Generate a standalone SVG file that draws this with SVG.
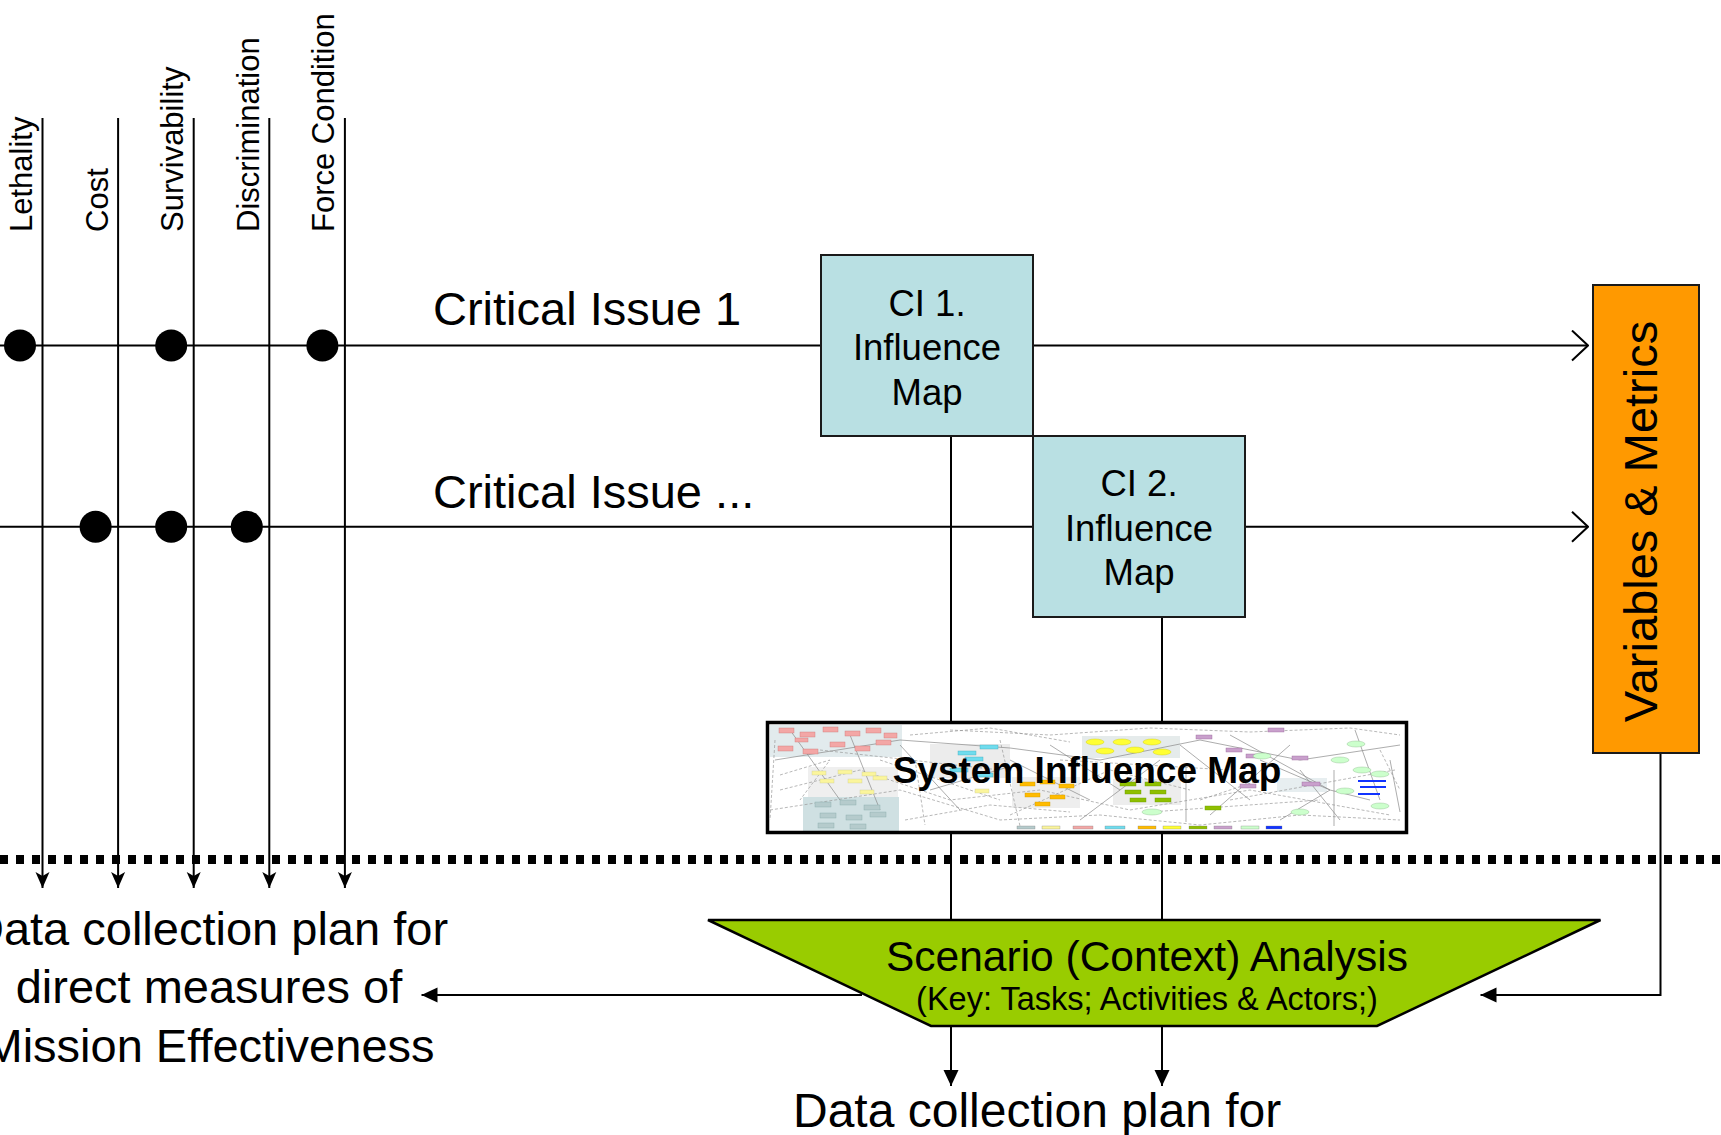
<svg xmlns="http://www.w3.org/2000/svg" width="1721" height="1135" viewBox="0 0 1721 1135">
  <style>
    .ln { stroke: #000; stroke-width: 2; fill: none; }
    .box { stroke: #1a1a1a; stroke-width: 2; }
    .lbl { font-family: "Liberation Sans", Arial, sans-serif; fill: #000; }
    .metric { font-size: 31px; }
    .issue { font-size: 47px; }
    .ci { font-size: 36.5px; text-anchor: middle; }
    .big { font-size: 47px; text-anchor: middle; }
    .dot { fill: #000; }
    .mini { stroke: #8a8a8a; stroke-width: 0.7; fill: none; }
    .mini-d { stroke: #9a9a9a; stroke-width: 0.7; fill: none; stroke-dasharray: 3 2; }
  </style>
  <defs>
    <marker id="tri" viewBox="0 0 16 16" refX="16" refY="8" markerWidth="16" markerHeight="16" markerUnits="userSpaceOnUse" orient="auto">
      <path d="M0,0.5 L16,8 L0,15.5 Z" fill="#000"/>
    </marker>
    <marker id="stealth" viewBox="0 0 16 16" refX="16" refY="8" markerWidth="16" markerHeight="16" markerUnits="userSpaceOnUse" orient="auto">
      <path d="M0,1 L16,8 L0,15 L4,8 Z" fill="#000"/>
    </marker>
    <marker id="open" viewBox="0 0 18 32" refX="17" refY="16" markerWidth="18" markerHeight="32" markerUnits="userSpaceOnUse" orient="auto">
      <path d="M1,1 L17,16 L1,31" fill="none" stroke="#000" stroke-width="2"/>
    </marker>
    <clipPath id="simClip">
      <rect x="769" y="724" width="636" height="107"/>
    </clipPath>
  </defs>

  <rect width="1721" height="1135" fill="#fff"/>

  <!-- connectors -->
  <g id="connectors">
    <!-- measure columns -->
    <line class="ln" x1="42.5" y1="118" x2="42.5" y2="888" marker-end="url(#stealth)"/>
    <line class="ln" x1="118.1" y1="118" x2="118.1" y2="888" marker-end="url(#stealth)"/>
    <line class="ln" x1="193.7" y1="118" x2="193.7" y2="888" marker-end="url(#stealth)"/>
    <line class="ln" x1="269.3" y1="118" x2="269.3" y2="888" marker-end="url(#stealth)"/>
    <line class="ln" x1="344.9" y1="118" x2="344.9" y2="888" marker-end="url(#stealth)"/>

    <!-- critical issue rows -->
    <line class="ln" x1="0" y1="345.5" x2="821" y2="345.5"/>
    <line class="ln" x1="1033" y1="345.5" x2="1588" y2="345.5" marker-end="url(#open)"/>
    <line class="ln" x1="0" y1="526.7" x2="1033" y2="526.7"/>
    <line class="ln" x1="1245" y1="526.7" x2="1588" y2="526.7" marker-end="url(#open)"/>

    <!-- influence maps down to the scenario analysis -->
    <line class="ln" x1="951" y1="436" x2="951" y2="920"/>
    <line class="ln" x1="1162" y1="617" x2="1162" y2="920"/>

    <!-- scenario analysis outputs -->
    <line class="ln" x1="951" y1="1026" x2="951" y2="1086" marker-end="url(#tri)"/>
    <line class="ln" x1="1162" y1="1026" x2="1162" y2="1086" marker-end="url(#tri)"/>
    <line class="ln" x1="862" y1="995" x2="421.5" y2="995" marker-end="url(#tri)"/>

    <!-- variables & metrics feed back -->
    <path class="ln" d="M1660.5,753 L1660.5,995 L1480.5,995" marker-end="url(#tri)"/>

    <!-- boundary -->
    <line x1="0" y1="859.5" x2="1721" y2="859.5" stroke="#000" stroke-width="9" stroke-dasharray="8 8"/>
  </g>

  <!-- measure labels -->
  <g id="measures" class="lbl metric">
    <text transform="translate(32,232) rotate(-90)">Lethality</text>
    <text transform="translate(107.6,232) rotate(-90)">Cost</text>
    <text transform="translate(183.2,232) rotate(-90)">Survivability</text>
    <text transform="translate(258.8,232) rotate(-90)">Discrimination</text>
    <text transform="translate(334.4,232) rotate(-90)">Force Condition</text>
  </g>

  <!-- markers on the issue rows -->
  <g id="issue-dots">
    <circle class="dot" cx="20" cy="345.5" r="16"/>
    <circle class="dot" cx="171.2" cy="345.5" r="16"/>
    <circle class="dot" cx="322.4" cy="345.5" r="16"/>
    <circle class="dot" cx="95.6" cy="526.7" r="16"/>
    <circle class="dot" cx="171.2" cy="526.7" r="16"/>
    <circle class="dot" cx="246.8" cy="526.7" r="16"/>
  </g>

  <g id="issue-1-label" class="lbl issue">
    <text x="433" y="325">Critical Issue 1</text>
  </g>
  <g id="issue-n-label" class="lbl issue">
    <text x="433" y="508">Critical Issue ...</text>
  </g>

  <g id="ci1">
    <rect class="box" x="821" y="255" width="212" height="181" fill="#B9E0E3"/>
    <text class="lbl ci" x="927" y="316">CI 1.</text>
    <text class="lbl ci" x="927" y="360">Influence</text>
    <text class="lbl ci" x="927" y="405">Map</text>
  </g>

  <g id="ci2">
    <rect class="box" x="1033" y="436" width="212" height="181" fill="#B9E0E3"/>
    <text class="lbl ci" x="1139" y="496">CI 2.</text>
    <text class="lbl ci" x="1139" y="541">Influence</text>
    <text class="lbl ci" x="1139" y="585">Map</text>
  </g>

  <g id="variables-metrics">
    <rect class="box" x="1593" y="285" width="106" height="468" fill="#FF9900"/>
    <text class="lbl" transform="translate(1657,521.5) rotate(-90)" font-size="47" text-anchor="middle">Variables &amp; Metrics</text>
  </g>

  <!-- system influence map thumbnail -->
  <g id="system-influence-map">
    <rect x="767.5" y="722.5" width="639" height="110" fill="#fff"/>
    <g clip-path="url(#simClip)">
      <!-- cluster backgrounds -->
      <rect x="770" y="725" width="132" height="32" fill="#e2ebed"/>
      <rect x="808" y="767" width="90" height="31" fill="#efefef"/>
      <rect x="803" y="797" width="96" height="35" fill="#cfe0e2"/>
      <rect x="930" y="744" width="80" height="34" fill="#ececec"/>
      <rect x="1082" y="736" width="98" height="22" fill="#e5ebeb"/>
      <rect x="1012" y="777" width="68" height="31" fill="#eeeeee"/>
      <rect x="1113" y="779" width="68" height="26" fill="#ededed"/>
      <rect x="1277" y="778" width="50" height="14" fill="#e7eef0"/>

      <!-- links -->
      <path class="mini" d="M775,760 L900,740 L1010,748 L1100,760 L1200,740 L1300,760 L1400,745"/>
      <path class="mini-d" d="M780,790 L860,770 L950,800 L1040,790 L1130,810 L1250,790 L1390,815"/>
      <path class="mini" d="M790,730 L840,800 M850,735 L880,810 M900,745 L960,810"/>
      <path class="mini-d" d="M770,810 L900,790 L1000,820 L1100,815 L1200,825 L1300,815 L1400,820"/>
      <path class="mini" d="M1010,760 L1090,800 M1050,745 L1120,790 M1180,745 L1250,800 M1300,770 L1340,820"/>
      <path class="mini-d" d="M950,730 L1050,735 L1150,728 L1250,732 L1350,728 L1400,735"/>
      <path class="mini" d="M1186,767 L1186,822 M1334,770 L1334,826 M1355,730 L1380,800"/>
      <path class="mini-d" d="M820,750 L1000,770 M1060,760 L1230,770 M1150,812 L1320,800 M880,760 L1000,800"/>
      <path class="mini" d="M1230,735 L1330,790 L1280,820 M1260,760 L1330,790 L1370,800"/>
      <path class="mini-d" d="M780,775 L830,760 L800,800 M1200,800 L1260,780 M1380,750 L1400,790"/>
      <path class="mini-d" d="M910,735 L990,728 L1070,742 M905,820 L990,805 L1070,812 M1010,815 L1110,770 L1190,790"/>
      <path class="mini" d="M930,790 L1015,765 M1080,820 L1160,760 M1210,815 L1290,745 M1390,760 L1400,812"/>
      <path class="mini-d" d="M775,740 L770,820 M915,760 L925,825 M1000,740 L1020,826 M1230,800 L1395,770"/>

      <!-- pink nodes -->
      <g fill="#f3a7a6" stroke="#c77" stroke-width="0.4">
        <rect x="779" y="728" width="15" height="5"/><rect x="800" y="732" width="15" height="5"/>
        <rect x="823" y="727" width="15" height="5"/><rect x="845" y="731" width="15" height="5"/>
        <rect x="866" y="728" width="15" height="5"/><rect x="884" y="733" width="13" height="5"/>
        <rect x="778" y="746" width="15" height="5"/><rect x="803" y="749" width="15" height="5"/>
        <rect x="830" y="742" width="15" height="5"/><rect x="855" y="746" width="15" height="5"/>
        <rect x="876" y="740" width="15" height="5"/><rect x="795" y="738" width="13" height="4"/>
      </g>
      <!-- pale yellow nodes -->
      <g fill="#fbf59c" stroke="#cc9" stroke-width="0.4">
        <rect x="812" y="771" width="14" height="4"/><rect x="838" y="770" width="14" height="4"/>
        <rect x="862" y="772" width="14" height="4"/><rect x="820" y="779" width="14" height="4"/>
        <rect x="848" y="779" width="14" height="4"/><rect x="873" y="776" width="14" height="4"/>
        <rect x="860" y="790" width="14" height="4"/><rect x="975" y="789" width="14" height="4"/>
      </g>
      <!-- grey-teal nodes -->
      <g fill="#b5cbcc" stroke="#8aa" stroke-width="0.4">
        <rect x="815" y="802" width="16" height="5"/><rect x="840" y="800" width="16" height="5"/>
        <rect x="864" y="805" width="16" height="5"/><rect x="820" y="813" width="16" height="5"/>
        <rect x="846" y="815" width="16" height="5"/><rect x="870" y="812" width="16" height="5"/>
        <rect x="818" y="823" width="16" height="5"/><rect x="850" y="824" width="16" height="5"/>
      </g>
      <!-- cyan nodes -->
      <g fill="#6fdcee" stroke="#4ab" stroke-width="0.4">
        <rect x="980" y="745" width="18" height="4"/><rect x="958" y="751" width="18" height="4"/>
        <rect x="965" y="757" width="18" height="4"/><rect x="950" y="768" width="18" height="4"/>
        <rect x="975" y="773" width="18" height="4"/>
      </g>
      <!-- yellow ellipses -->
      <g fill="#ffff33" stroke="#cc0" stroke-width="0.4">
        <ellipse cx="1095" cy="742" rx="9" ry="3"/><ellipse cx="1122" cy="742" rx="9" ry="3"/>
        <ellipse cx="1152" cy="742" rx="9" ry="3"/><ellipse cx="1105" cy="751" rx="9" ry="3"/>
        <ellipse cx="1135" cy="750" rx="9" ry="3"/><ellipse cx="1162" cy="752" rx="9" ry="3"/>
      </g>
      <!-- orange nodes -->
      <g fill="#ffbb00" stroke="#c90" stroke-width="0.4">
        <rect x="1020" y="782" width="15" height="4"/><rect x="1040" y="780" width="15" height="4"/>
        <rect x="1059" y="784" width="15" height="4"/><rect x="1025" y="793" width="15" height="4"/>
        <rect x="1050" y="795" width="15" height="4"/><rect x="1035" y="802" width="15" height="4"/>
      </g>
      <!-- olive nodes -->
      <g fill="#8fbf00" stroke="#690" stroke-width="0.4">
        <rect x="1120" y="782" width="16" height="4"/><rect x="1145" y="782" width="16" height="4"/>
        <rect x="1125" y="790" width="16" height="4"/><rect x="1150" y="790" width="16" height="4"/>
        <rect x="1130" y="798" width="16" height="4"/><rect x="1155" y="798" width="16" height="4"/>
        <rect x="1205" y="806" width="16" height="4"/>
      </g>
      <!-- purple nodes -->
      <g fill="#c9a0cc" stroke="#969" stroke-width="0.4">
        <rect x="1196" y="735" width="16" height="4"/><rect x="1268" y="728" width="16" height="4"/>
        <rect x="1226" y="748" width="16" height="4"/><rect x="1246" y="754" width="16" height="4"/>
        <rect x="1292" y="756" width="16" height="4"/><rect x="1302" y="782" width="18" height="4"/>
        <rect x="1240" y="784" width="16" height="4"/>
      </g>
      <!-- light green ellipses -->
      <g fill="#ccffcc" stroke="#8b8" stroke-width="0.4">
        <ellipse cx="1262" cy="756" rx="9" ry="3"/><ellipse cx="1356" cy="744" rx="9" ry="3"/>
        <ellipse cx="1340" cy="760" rx="9" ry="3"/><ellipse cx="1362" cy="770" rx="9" ry="3"/>
        <ellipse cx="1380" cy="774" rx="9" ry="3"/><ellipse cx="1345" cy="791" rx="9" ry="3"/>
        <ellipse cx="1300" cy="812" rx="9" ry="3"/><ellipse cx="1380" cy="806" rx="9" ry="3"/>
        <ellipse cx="1152" cy="812" rx="10" ry="3"/>
      </g>
      <!-- blue nodes -->
      <g fill="#1133ff">
        <rect x="1358" y="780" width="28" height="2"/><rect x="1360" y="786" width="26" height="2"/>
        <rect x="1358" y="793" width="22" height="2"/>
      </g>
      <!-- legend strip -->
      <g stroke-width="0.3" stroke="#777">
        <rect x="1017" y="826" width="18" height="3" fill="#b5cbcc"/>
        <rect x="1042" y="826" width="18" height="3" fill="#fbf59c"/>
        <rect x="1073" y="826" width="20" height="3" fill="#f3a7a6"/>
        <rect x="1105" y="826" width="20" height="3" fill="#6fdcee"/>
        <rect x="1138" y="826" width="18" height="3" fill="#ffbb00"/>
        <rect x="1163" y="826" width="18" height="3" fill="#ffff33"/>
        <rect x="1189" y="826" width="18" height="3" fill="#8fbf00"/>
        <rect x="1214" y="826" width="18" height="3" fill="#c9a0cc"/>
        <rect x="1241" y="826" width="18" height="3" fill="#ccffcc"/>
        <rect x="1266" y="826" width="16" height="3" fill="#1133ff"/>
      </g>
    </g>
    <rect x="767.5" y="722.5" width="639" height="110" fill="none" stroke="#000" stroke-width="3.5"/>
    <text class="lbl" x="1087" y="783" font-size="37" font-weight="bold" text-anchor="middle">System Influence Map</text>
  </g>

  <g id="scenario-analysis">
    <polygon points="708,920 1600.5,920 1377,1026 931,1026" fill="#99CC00" stroke="#000" stroke-width="2.5"/>
    <text class="lbl" x="1147" y="971" font-size="42.5" text-anchor="middle">Scenario (Context) Analysis</text>
    <text class="lbl" x="1147" y="1010" font-size="32.5" text-anchor="middle">(Key: Tasks; Activities &amp; Actors;)</text>
  </g>

  <g id="direct-plan">
    <text class="lbl big" x="209" y="945">Data collection plan for</text>
    <text class="lbl big" x="209" y="1003">direct measures of</text>
    <text class="lbl big" x="209" y="1062">Mission Effectiveness</text>
  </g>

  <g id="context-plan">
    <text class="lbl" x="793" y="1127" font-size="48">Data collection plan for</text>
  </g>
</svg>
